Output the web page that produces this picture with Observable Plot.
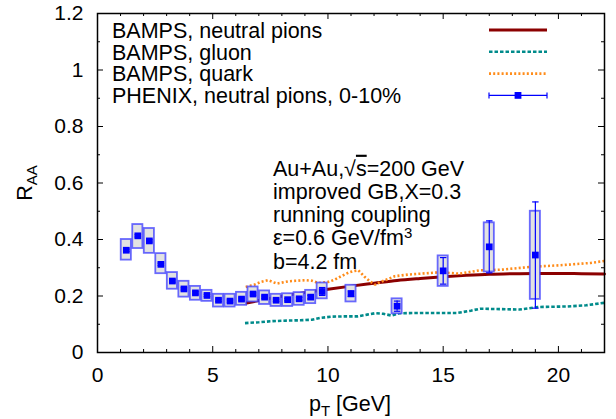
<!DOCTYPE html>
<html><head><meta charset="utf-8">
<script src="https://cdn.jsdelivr.net/npm/d3@7"></script>
<script src="https://cdn.jsdelivr.net/npm/@observablehq/plot@0.6"></script>
<style>body{margin:0;background:#fff}#chart{width:616px;height:419px}</style>
</head><body><div id="chart"></div>
<script>
// PHENIX neutral pions, 0-10%
const phenixPt    = [1.25,1.75,2.25,2.75,3.25,3.75,4.25,4.75,5.25,5.75,6.25,6.75,7.25,7.75,8.25,8.75,9.25,9.75,11,13,15,17,19];
const phenixRaa   = [0.362,0.413,0.395,0.312,0.253,0.225,0.211,0.202,0.185,0.182,0.189,0.207,0.196,0.185,0.187,0.190,0.196,0.216,0.208,0.164,0.289,0.374,0.345];
const phenixStat  = [0.004,0.004,0.004,0.004,0.004,0.004,0.004,0.004,0.004,0.004,0.004,0.004,0.004,0.004,0.004,0.005,0.006,0.014,0.010,0.018,0.047,0.092,0.188];
const phenixSysLo = [0.327,0.368,0.351,0.279,0.224,0.196,0.185,0.181,0.161,0.161,0.167,0.179,0.170,0.163,0.163,0.167,0.173,0.190,0.179,0.137,0.234,0.285,0.188];
const phenixSysHi = [0.400,0.453,0.439,0.350,0.283,0.252,0.234,0.220,0.206,0.206,0.213,0.232,0.218,0.206,0.208,0.212,0.220,0.246,0.238,0.190,0.342,0.459,0.500];

// BAMPS neutral pions
const pionPt  = [6.4,7,8,9,10,11,12,13,14,15,16,17,18,19,20,21,22];
const pionRaa = [0.174,0.184,0.199,0.212,0.224,0.235,0.245,0.255,0.262,0.268,0.273,0.277,0.279,0.280,0.280,0.279,0.278];

// BAMPS gluon
const gluonPt  = [6.4,7.0,7.6,8.2,8.8,9.3,9.7,10.2,10.8,11.3,11.7,12.05,12.4,12.75,13.1,14.0,15.0,15.6,16.2,16.6,17.2,18.3,19.1,20.4,21.2,22.0];
const gluonRaa = [0.104,0.107,0.111,0.113,0.114,0.116,0.123,0.127,0.128,0.128,0.134,0.139,0.137,0.131,0.139,0.140,0.140,0.140,0.148,0.155,0.154,0.152,0.161,0.163,0.167,0.176];

// BAMPS quark
const quarkPt  = [6.43,6.8,7.1,7.4,7.78,8.29,8.6,9.01,9.3,9.59,10.02,10.3,10.6,10.9,11.1,11.32,11.6,11.85,12.05,12.28,12.48,12.9,13.5,14.0,14.9,15.7,16.6,17.5,18.8,20.1,21.4,22.0];
const quarkRaa = [0.232,0.240,0.250,0.256,0.244,0.252,0.254,0.256,0.254,0.246,0.250,0.258,0.271,0.283,0.288,0.291,0.267,0.250,0.240,0.250,0.256,0.270,0.276,0.279,0.284,0.279,0.291,0.293,0.303,0.309,0.317,0.324];

const xMajorTicks = [0,5,10,15,20];
const xTickLabels = ["0","5","10","15","20"];
const xMinorTicks = [1,2,3,4,6,7,8,9,11,12,13,14,16,17,18,19,21];
const yMajorTicks = [0,0.2,0.4,0.6,0.8,1.0,1.2];
const yTickLabels = ["0","0.2","0.4","0.6","0.8","1","1.2"];
const yMinorTicks = [0.1,0.3,0.5,0.7,0.9,1.1];

const legendLabels = ["BAMPS, neutral pions","BAMPS, gluon","BAMPS, quark","PHENIX, neutral pions, 0-10%"];

const phenix = phenixPt.map((x,i)=>({x, y:phenixRaa[i], lo:phenixRaa[i]-phenixStat[i], hi:phenixRaa[i]+phenixStat[i], sysLo:phenixSysLo[i], sysHi:phenixSysHi[i]}));
const pions = pionPt.map((x,i)=>({x, y:pionRaa[i]}));
const gluon = gluonPt.map((x,i)=>({x, y:gluonRaa[i]}));
const quark = quarkPt.map((x,i)=>({x, y:quarkRaa[i]}));

const FONT = "'Liberation Sans', Arial, Helvetica, sans-serif";
const W = 616, H = 419, ML = 97, MR = 12, MT = 13, MB = 67;
const FW = W - ML - MR, FH = H - MT - MB;
const boxHalf = 0.22, capHalf = 0.14;
const cRed = "#8b0000", cTeal = "#008b8b", cOrange = "#ff8c1a", cBlue = "#0000ff";
const tick = (len, side) => side === "bottom" ? {insetTop: FH - len} : side === "top" ? {insetBottom: FH - len}
  : side === "left" ? {insetRight: FW - len} : {insetLeft: FW - len};

const plot = Plot.plot({
  width: W, height: H,
  marginLeft: ML, marginRight: MR, marginTop: MT, marginBottom: MB,
  style: {fontFamily: FONT, fontSize: "21px", background: "#fff", color: "#000", overflow: "visible"},
  x: {domain: [0, 22], label: null, axis: null},
  y: {domain: [0, 1.2], label: null, axis: null},
  marks: [
    Plot.line(pions, {x:"x", y:"y", stroke:cRed, strokeWidth:3, curve:"monotone-x"}),
    Plot.line(gluon, {x:"x", y:"y", stroke:cTeal, strokeWidth:2.6, strokeDasharray:"3.5,2", strokeLinecap:"butt", strokeLinejoin:"miter"}),
    Plot.line(quark, {x:"x", y:"y", stroke:cOrange, strokeWidth:2.6, strokeDasharray:"2,2.2", strokeLinecap:"butt", strokeLinejoin:"miter"}),
    Plot.rect(phenix, {x1:d=>d.x-boxHalf, x2:d=>d.x+boxHalf, y1:"sysLo", y2:"sysHi", fill:"#e2e2e2", stroke:"#3a3aff", strokeWidth:1.8, strokeOpacity:0.75}),
    Plot.ruleX(phenix, {x:"x", y1:"lo", y2:"hi", stroke:cBlue, strokeWidth:1.2}),
    Plot.link(phenix, {x1:d=>d.x-capHalf, x2:d=>d.x+capHalf, y1:"lo", y2:"lo", stroke:cBlue, strokeWidth:1.2}),
    Plot.link(phenix, {x1:d=>d.x-capHalf, x2:d=>d.x+capHalf, y1:"hi", y2:"hi", stroke:cBlue, strokeWidth:1.2}),
    Plot.dot(phenix, {x:"x", y:"y", symbol:"square", r:3.8, fill:cBlue, stroke:null}),
    // inward ticks on all four sides
    Plot.tickX(xMajorTicks, {x:d=>d, stroke:"#000", ...tick(6, "bottom")}),
    Plot.tickX(xMinorTicks, {x:d=>d, stroke:"#000", ...tick(3, "bottom")}),
    Plot.tickX(xMajorTicks, {x:d=>d, stroke:"#000", ...tick(6, "top")}),
    Plot.tickX(xMinorTicks, {x:d=>d, stroke:"#000", ...tick(3, "top")}),
    Plot.tickY(yMajorTicks, {y:d=>d, stroke:"#000", ...tick(6, "left")}),
    Plot.tickY(yMinorTicks, {y:d=>d, stroke:"#000", ...tick(3, "left")}),
    Plot.tickY(yMajorTicks, {y:d=>d, stroke:"#000", ...tick(6, "right")}),
    Plot.tickY(yMinorTicks, {y:d=>d, stroke:"#000", ...tick(3, "right")}),
    // tick labels
    Plot.axisX(xMajorTicks, {anchor:"bottom", tickSize:0, tickPadding:15, tickFormat:(d,i)=>xTickLabels[i], fontSize:21, label:null}),
    Plot.axisY(yMajorTicks, {anchor:"left", tickSize:0, tickPadding:14, tickFormat:(d,i)=>yTickLabels[i], fontSize:21, label:null}),
    Plot.frame({stroke:"#000", strokeWidth:1.5})
  ]
});
document.getElementById("chart").appendChild(plot);

// titles, legend, annotation
const svg = d3.select(plot);
const g = svg.append("g").attr("font-family", FONT).attr("font-size", 21.5).attr("fill", "#000").attr("text-anchor", "start");

// x title
const xt = g.append("text").attr("x", 350).attr("y", 411).attr("text-anchor", "middle");
xt.append("tspan").text("p");
xt.append("tspan").attr("font-size", 15).attr("dy", 5).text("T");
xt.append("tspan").attr("dy", -5).text(" [GeV]");
// y title
const yt = g.append("text").attr("transform", "translate(32,183) rotate(-90)").attr("text-anchor", "middle");
yt.append("tspan").text("R");
yt.append("tspan").attr("font-size", 15).attr("dy", 5).text("AA");

// legend
const legendY = i => 30 + i * 21.8;
legendLabels.forEach((t, i) => {
  g.append("text").attr("x", 112).attr("y", legendY(i)).attr("dy", "0.36em").text(t);
});
const lx1 = 489, lx2 = 547;
g.append("line").attr("x1", lx1).attr("x2", lx2).attr("y1", legendY(0)).attr("y2", legendY(0)).attr("stroke", cRed).attr("stroke-width", 3);
g.append("line").attr("x1", lx1).attr("x2", lx2).attr("y1", legendY(1)).attr("y2", legendY(1)).attr("stroke", cTeal).attr("stroke-width", 2.6).attr("stroke-dasharray", "3.5,2");
g.append("line").attr("x1", lx1).attr("x2", lx2).attr("y1", legendY(2)).attr("y2", legendY(2)).attr("stroke", cOrange).attr("stroke-width", 2.6).attr("stroke-dasharray", "2,2.2");
const py = legendY(3);
g.append("line").attr("x1", lx1).attr("x2", lx2).attr("y1", py).attr("y2", py).attr("stroke", cBlue).attr("stroke-width", 1.2);
g.append("line").attr("x1", lx1).attr("x2", lx1).attr("y1", py-3).attr("y2", py+3).attr("stroke", cBlue).attr("stroke-width", 1.2);
g.append("line").attr("x1", lx2).attr("x2", lx2).attr("y1", py-3).attr("y2", py+3).attr("stroke", cBlue).attr("stroke-width", 1.2);
g.append("rect").attr("x", (lx1+lx2)/2-3.4).attr("y", py-3.4).attr("width", 6.8).attr("height", 6.8).attr("fill", cBlue);

// annotation
const ax = 273, ay = i => 168 + i * 23.25;
const a0 = g.append("text").attr("x", ax).attr("y", ay(0)).attr("dy", "0.36em");
a0.append("tspan").text("Au+Au,√");
a0.append("tspan").style("text-decoration", "overline").text("s");
a0.append("tspan").text("=200 GeV");
g.append("text").attr("x", ax).attr("y", ay(1)).attr("dy", "0.36em").text("improved GB,X=0.3");
g.append("text").attr("x", ax).attr("y", ay(2)).attr("dy", "0.36em").text("running coupling");
const a3 = g.append("text").attr("x", ax).attr("y", ay(3)).attr("dy", "0.36em");
a3.append("tspan").text("ε=0.6 GeV/fm");
a3.append("tspan").attr("font-size", 15).attr("dy", -7).text("3");
g.append("text").attr("x", ax).attr("y", ay(4)).attr("dy", "0.36em").text("b=4.2 fm");
</script>
</body></html>
